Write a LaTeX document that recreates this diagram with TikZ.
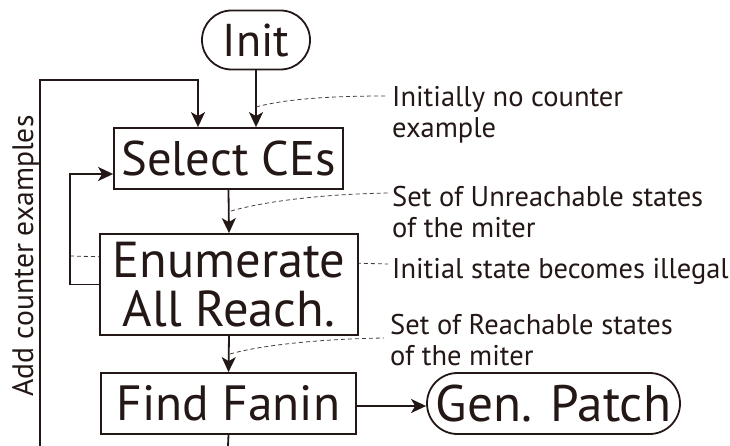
\documentclass[tikz,border=0pt]{standalone}
\usepackage{fontspec}
\setmainfont{PT Sans}
\usetikzlibrary{arrows.meta,shapes.misc}
\definecolor{ink}{HTML}{231815}
\begin{document}
\begin{tikzpicture}[x=1pt,y=-1pt,
  wire/.style={draw=ink,line width=1.8pt},
  flow/.style={wire,-{Stealth[length=15pt,width=14pt,inset=4pt]}},
  box/.style={draw=ink,line width=1.8pt,fill=white,text=ink,inner sep=0pt,align=center},
  term/.style={box,rounded rectangle},
  note/.style={text=ink,inner sep=0pt,anchor=base west,align=left,font=\fontsize{28.5}{31}\selectfont},
  lead/.style={draw=ink!85,line width=0.8pt,dash pattern=on 4pt off 3pt}]
\useasboundingbox (0,0) rectangle (730,446);

% leader passing behind the enumeration box
\coordinate (l3a) at (70,256);
\coordinate (l3b) at (388,264);
\draw[lead] (l3a) -- (l3b);

% process nodes
\node[term,minimum width=108pt,minimum height=59pt,font=\fontsize{46}{46}\selectfont] (init) at (256,40) {Init};
\node[box,minimum width=229pt,minimum height=61pt,font=\fontsize{48.6}{48}\selectfont] (sel) at (228.5,158.5) {Select CEs};
\node[box,minimum width=258pt,minimum height=101pt,font=\fontsize{50.5}{49}\selectfont] (enum) at (229,284.5) {Enumerate\\All Reach.};
\node[box,minimum width=255pt,minimum height=61pt,font=\fontsize{49.5}{49}\selectfont] (fan) at (228.5,403.5) {Find Fanin};
\node[term,minimum width=253pt,minimum height=61pt,font=\fontsize{51.3}{51}\selectfont] (gen) at (553.5,403.5) {Gen. Patch};

% main flow
\draw[flow] (init.south) -- (init.south |- sel.north);
\draw[flow] (sel.south) -- (enum.north);
\draw[flow] (enum.south) -- (fan.north);
\draw[flow] (fan.east |- 0,406) -- (gen.west |- 0,406);
\coordinate (fanout) at (228,446);
\draw[wire] (fan.south) -- (fanout);

% outer loop: add counter examples
\coordinate (back) at (40,446);
\coordinate (backtop) at (198,80);
\draw[flow] (back) |- (backtop) -- (backtop |- sel.north);
\node[rotate=90,anchor=base,inner sep=0pt,text=ink,font=\fontsize{29.6}{30}\selectfont] (addce) at (33,256) {Add counter examples};

% inner loop: enumeration back to selection
\coordinate (innerleft) at (70,174);
\draw[flow] (enum.west) -| (innerleft) -- (innerleft -| sel.west);

% annotations (anchored at the baseline of their last line)
\node[note] (n1) at (392,138) {Initially no counter\\example};
\node[note] (n2) at (392,237) {Set of Unreachable states\\of the miter};
\node[note] (n3) at (392,278) {Initial state becomes illegal};
\node[note] (n4) at (390,365) {Set of Reachable states\\of the miter};

\coordinate (l1a) at (256,107);
\coordinate (l1b) at (385,96);
\draw[lead] (l1a) .. controls (285,99) and (330,96) .. (l1b);
\coordinate (l2a) at (231,211);
\coordinate (l2b) at (390,193);
\draw[lead] (l2a) .. controls (262,202) and (320,194) .. (l2b);
\coordinate (l4a) at (230,354);
\coordinate (l4b) at (384,338);
\draw[lead] (l4a) .. controls (262,345) and (320,339) .. (l4b);
\end{tikzpicture}
\end{document}
